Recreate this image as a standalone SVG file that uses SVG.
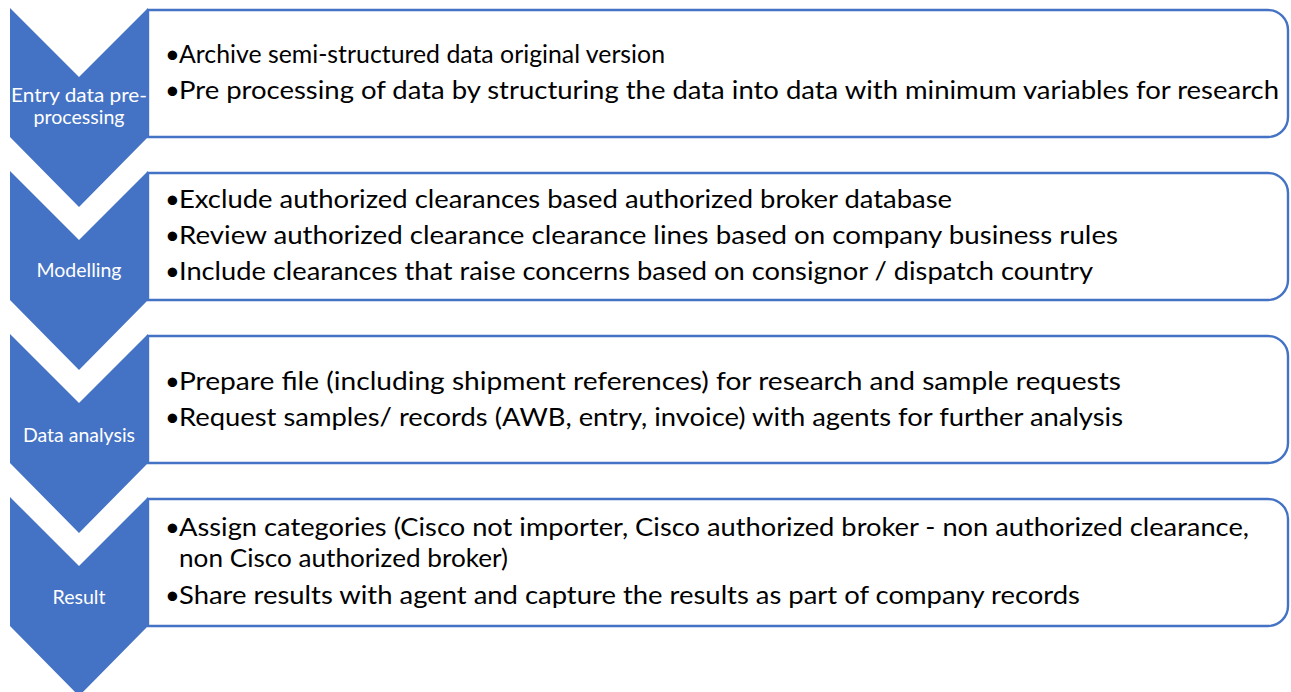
<svg xmlns="http://www.w3.org/2000/svg" width="1291" height="692" viewBox="0 0 1291 692">
<style>
.chev{fill:#4472C4;}
.box{fill:#FFFFFF;stroke:#4472C4;stroke-width:2.4;}
.lbl{font-family:Lato,"Liberation Sans",sans-serif;font-size:20px;fill:#FFFFFF;text-anchor:middle;}
.txt{font-family:Lato,"Liberation Sans",sans-serif;font-size:25.5px;fill:#000000;}
</style>
<rect width="1291" height="692" fill="#FFFFFF"/>
<g id="step1">
<path class="box" d="M148,10 H1268 A20,20 0 0 1 1288,30 V117 A20,20 0 0 1 1268,137 H148 Z"/>
<polygon class="chev" points="10,8 79,77 148,8 148,137 79,207 10,137"/>
<text class="lbl" x="79" y="102" textLength="136" lengthAdjust="spacingAndGlyphs">Entry data pre-</text>
<text class="lbl" x="79" y="124" textLength="91" lengthAdjust="spacingAndGlyphs">processing</text>
<text class="txt" x="165" y="63">•</text><text class="txt" x="179" y="63" textLength="486" lengthAdjust="spacingAndGlyphs">Archive semi-structured data original version</text>
<text class="txt" x="165" y="99">•</text><text class="txt" x="179" y="99" textLength="1100" lengthAdjust="spacingAndGlyphs">Pre processing of data by structuring the data into data with minimum variables for research</text>
</g>
<g id="step2">
<path class="box" d="M148,173 H1268 A20,20 0 0 1 1288,193 V280 A20,20 0 0 1 1268,300 H148 Z"/>
<polygon class="chev" points="10,171 79,240 148,171 148,300 79,370 10,300"/>
<text class="lbl" x="79" y="277" textLength="85" lengthAdjust="spacingAndGlyphs">Modelling</text>
<text class="txt" x="165" y="208">•</text><text class="txt" x="179" y="208" textLength="773" lengthAdjust="spacingAndGlyphs">Exclude authorized clearances based authorized broker database</text>
<text class="txt" x="165" y="244">•</text><text class="txt" x="179" y="244" textLength="939" lengthAdjust="spacingAndGlyphs">Review authorized clearance clearance lines based on company business rules</text>
<text class="txt" x="165" y="280">•</text><text class="txt" x="179" y="280" textLength="914" lengthAdjust="spacingAndGlyphs">Include clearances that raise concerns based on consignor / dispatch country</text>
</g>
<g id="step3">
<path class="box" d="M148,336 H1268 A20,20 0 0 1 1288,356 V443 A20,20 0 0 1 1268,463 H148 Z"/>
<polygon class="chev" points="10,334 79,403 148,334 148,463 79,533 10,463"/>
<text class="lbl" x="79" y="442" textLength="112" lengthAdjust="spacingAndGlyphs">Data analysis</text>
<text class="txt" x="165" y="390">•</text><text class="txt" x="179" y="390" textLength="942" lengthAdjust="spacingAndGlyphs">Prepare file (including shipment references) for research and sample requests</text>
<text class="txt" x="165" y="426">•</text><text class="txt" x="179" y="426" textLength="944" lengthAdjust="spacingAndGlyphs">Request samples/ records (AWB, entry, invoice) with agents for further analysis</text>
</g>
<g id="step4">
<path class="box" d="M148,499 H1268 A20,20 0 0 1 1288,519 V606 A20,20 0 0 1 1268,626 H148 Z"/>
<polygon class="chev" points="10,497 79,566 148,497 148,626 79,696 10,626"/>
<text class="lbl" x="79" y="604" textLength="53" lengthAdjust="spacingAndGlyphs">Result</text>
<text class="txt" x="165" y="536">•</text><text class="txt" x="179" y="536" textLength="1070" lengthAdjust="spacingAndGlyphs">Assign categories (Cisco not importer, Cisco authorized broker - non authorized clearance,</text>
<text class="txt" x="179" y="567" textLength="329" lengthAdjust="spacingAndGlyphs">non Cisco authorized broker)</text>
<text class="txt" x="165" y="604">•</text><text class="txt" x="179" y="604" textLength="901" lengthAdjust="spacingAndGlyphs">Share results with agent and capture the results as part of company records</text>
</g>
<g id="connectors"></g>
</svg>
